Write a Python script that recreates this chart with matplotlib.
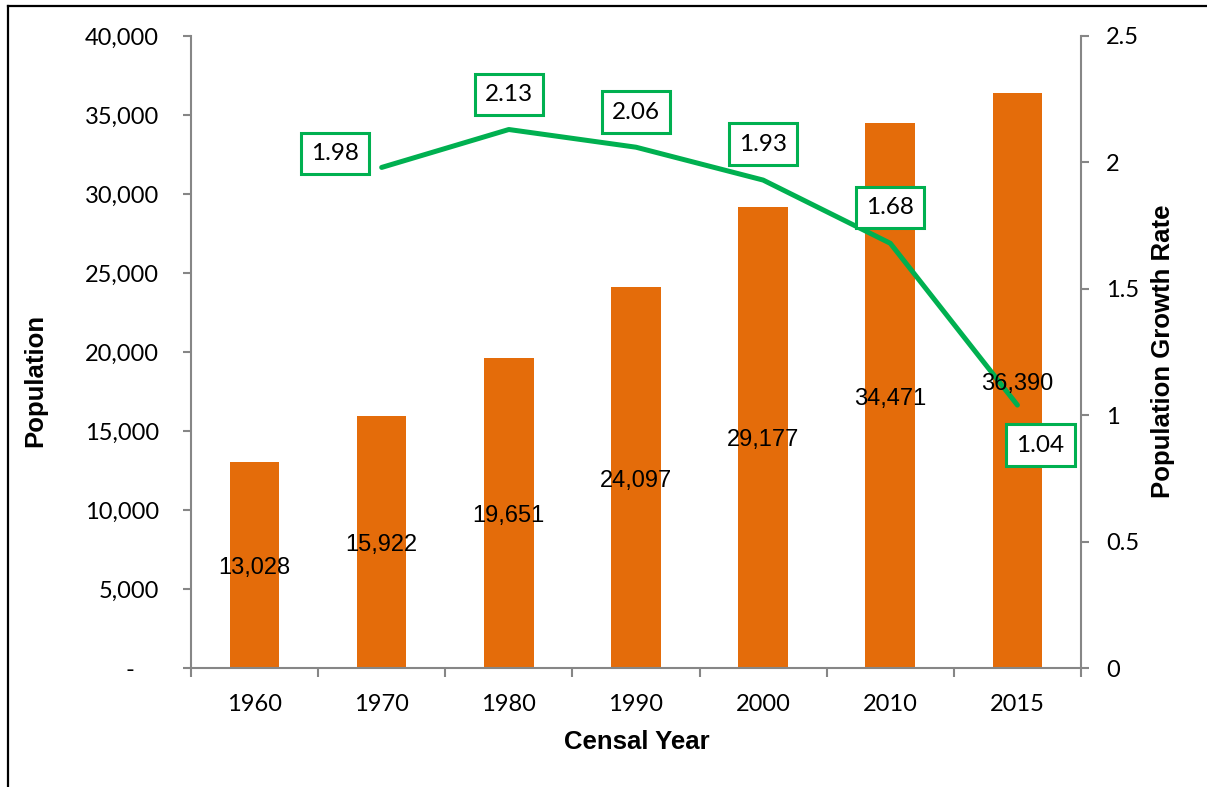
import matplotlib
matplotlib.use("Agg")
import matplotlib.pyplot as plt
from matplotlib.lines import Line2D
from matplotlib.ticker import FuncFormatter, MultipleLocator
import numpy as np

# data
years = ["1960", "1970", "1980", "1990", "2000", "2010", "2015"]
population = [13028, 15922, 19651, 24097, 29177, 34471, 36390]
growth_years = ["1970", "1980", "1990", "2000", "2010", "2015"]
growth_rate = [1.98, 2.13, 2.06, 1.93, 1.68, 1.04]

ORANGE = "#E46C0A"
GREEN = "#00B050"
AXIS_GREY = "#868686"
TICK_FONT = "Lato"
LABEL_FONT = "Liberation Sans"

fig = plt.figure(figsize=(12.07, 7.87), dpi=100)
ax = fig.add_axes([0.1582, 0.1512, 0.7374, 0.8031])
ax2 = ax.twinx()

x = np.arange(len(years))
ax.bar(x, population, width=0.39, color=ORANGE, zorder=2)
ax.set_xlim(-0.5, len(years) - 0.5)
ax.set_ylim(0, 40000)
ax.yaxis.set_major_locator(MultipleLocator(5000))
ax.yaxis.set_major_formatter(
    FuncFormatter(lambda v, p: "-    " if v == 0 else f"{v:,.0f}"))

# bar value labels, centred inside the bars
for xi, val in zip(x, population):
    ax2.annotate(f"{val:,}", (xi, val / 2), xycoords=ax.transData,
                 xytext=(0, -3), textcoords="offset pixels",
                 ha="center", va="center", fontsize=17, family=LABEL_FONT,
                 color="black", zorder=5)

# growth rate line
gx = [years.index(y) for y in growth_years]
ax2.plot(gx, growth_rate, color=GREEN, lw=3.6, solid_capstyle="round", zorder=3)
ax2.set_ylim(0, 2.5)
ax2.yaxis.set_major_locator(MultipleLocator(0.5))
ax2.yaxis.set_major_formatter(FuncFormatter(lambda v, p: f"{v:g}"))

# boxed labels for the growth rate
offsets = [(-47, 14), (0, 35), (0, 35), (0, 36), (0, 36), (23, -40)]
for xi, val, off in zip(gx, growth_rate, offsets):
    ax2.annotate(f"{val:.2f}", (xi, val), xytext=off, textcoords="offset pixels",
                 ha="center", va="center", fontsize=17.5, family=TICK_FONT,
                 bbox=dict(boxstyle="square,pad=0.42", fc="white",
                           ec=GREEN, lw=2.2), zorder=6)

# axes styling
for a in (ax, ax2):
    for s in a.spines.values():
        s.set_visible(False)
ax.spines["left"].set_visible(True)
ax.spines["bottom"].set_visible(True)
ax2.spines["right"].set_visible(True)
for s in (ax.spines["left"], ax.spines["bottom"], ax2.spines["right"]):
    s.set_color(AXIS_GREY)
    s.set_linewidth(1.5)

ax.set_xticks(x)
ax.set_xticklabels(years)
ax.set_xticks(np.arange(-0.5, len(years)), minor=True)
ax.tick_params(axis="x", which="major", length=0, pad=19,
               labelsize=17, labelfontfamily=TICK_FONT)
ax.tick_params(axis="x", which="minor", length=6.5, width=1.5,
               color=AXIS_GREY, direction="out")
ax.tick_params(axis="y", length=6, width=1.5, color=AXIS_GREY,
               pad=17, labelsize=17, labelfontfamily=TICK_FONT)
ax2.tick_params(axis="y", length=6, width=1.5, color=AXIS_GREY,
                pad=12, labelsize=17, labelfontfamily=TICK_FONT)

# axis titles
fig.text(0.029, 0.516, "Population", rotation=90, ha="center", va="center",
         fontsize=18.5, fontweight="bold", family=LABEL_FONT)
fig.text(0.9635, 0.554, "Population Growth Rate", rotation=90, ha="center",
         va="center", fontsize=18.5, fontweight="bold", family=LABEL_FONT)
fig.text(0.528, 0.057, "Censal Year", ha="center", va="center",
         fontsize=18.5, fontweight="bold", family=LABEL_FONT)

# outer frame (left and top edges only visible)
fig.add_artist(Line2D([8 / 1207, 8 / 1207], [0, 1 - 6 / 787],
                      transform=fig.transFigure, color="black", lw=1.6))
fig.add_artist(Line2D([8 / 1207, 1], [1 - 6 / 787, 1 - 6 / 787],
                      transform=fig.transFigure, color="black", lw=1.6))

fig.savefig("out.png", dpi=100)
